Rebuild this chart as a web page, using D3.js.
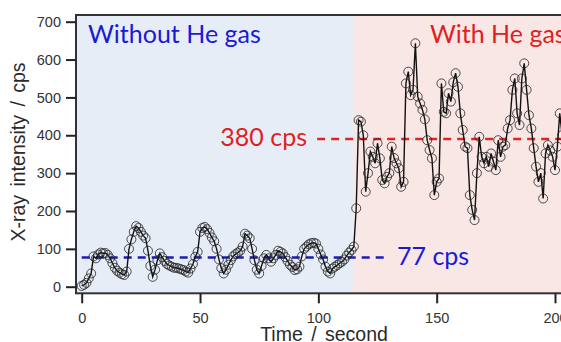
<!DOCTYPE html>
<html>
<head>
<meta charset="utf-8">
<script src="https://cdn.jsdelivr.net/npm/d3@7"></script>
<style>
  body { margin: 0; background: #fff; }
  svg { display: block; }
</style>
</head>
<body>
<div id="chart"></div>
<script>
// counts per second, t = 0 .. 115 (no gas)
const countsNoGas = [
    2, 5, 10, 22, 35, 80, 75, 85, 90, 88,
    89, 84, 75, 62, 50, 42, 37, 33, 31, 40,
    100, 125, 145, 160, 155, 145, 135, 128, 95, 55,
    26, 45, 70, 88, 78, 68, 60, 56, 53, 50,
    50, 48, 46, 44, 40, 37, 48, 60, 79, 92,
    145, 155, 158, 152, 142, 130, 120, 100, 72, 49,
    35, 45, 58, 70, 80, 86, 90, 95, 106, 140,
    135, 128, 100, 70, 45, 35, 55, 75, 84, 75,
    66, 75, 84, 95, 92, 88, 78, 68, 58, 52,
    44, 46, 53, 80, 100, 106, 112, 115, 116, 114,
    100, 85, 72, 53, 40, 35, 48, 53, 57, 62,
    66, 72, 82, 90, 97, 106
];
// counts per second, t = 116 .. 203 (He gas on)
const countsHeGas = [
    207, 440, 436, 400, 251, 300, 357, 343, 326, 379,
    339, 282, 273, 290, 300, 370, 340, 326, 313, 264,
    277, 537, 568, 506, 520, 643, 502, 484, 467, 442,
    387, 361, 339, 242, 277, 286, 537, 462, 458, 511,
    489, 540, 564, 528, 458, 414, 370, 366, 242, 203,
    176, 300, 396, 343, 326, 343, 317, 352, 330, 308,
    387, 343, 370, 374, 418, 440, 520, 550, 458, 427,
    550, 590, 520, 453, 418, 366, 317, 277, 300, 233,
    352, 374, 360, 343, 308, 370, 458, 400
];
const gasOnAt = 114.6;          // seconds
const xTicks = [0, 50, 100, 150, 200];
const yTicks = [0, 100, 200, 300, 400, 500, 600, 700];
const blueLevel = 77;
const redLevel = 390;           // drawn level of the "380 cps" guide

const points = countsNoGas.concat(countsHeGas).map((v, i) => ({ t: i, v: v }));

const width = 561, height = 342;
const frame = { left: 76, top: 15, bottom: 293.3, right: 600 };

const x = d3.scaleLinear().domain([0, 200]).range([81.7, 555]);
const y = d3.scaleLinear().domain([0, 700]).range([286.7, 21.7]);

const svg = d3.select("#chart")
    .append("svg")
    .attr("width", width)
    .attr("height", height);

// background regions
svg.append("rect")
    .attr("x", frame.left)
    .attr("y", frame.top)
    .attr("width", x(gasOnAt) - frame.left)
    .attr("height", frame.bottom - frame.top)
    .attr("fill", "#e7edf7");
svg.append("rect")
    .attr("x", x(gasOnAt))
    .attr("y", frame.top)
    .attr("width", frame.right - x(gasOnAt))
    .attr("height", frame.bottom - frame.top)
    .attr("fill", "#f8e7e5");

// frame
svg.append("rect")
    .attr("x", frame.left)
    .attr("y", frame.top)
    .attr("width", frame.right - frame.left)
    .attr("height", frame.bottom - frame.top)
    .attr("fill", "none")
    .attr("stroke", "#333")
    .attr("stroke-width", 2);

// axes
const yAxis = svg.append("g")
    .attr("transform", `translate(${frame.left},0)`)
    .call(d3.axisLeft(y).tickValues(yTicks).tickSize(10).tickPadding(5));
const xAxis = svg.append("g")
    .attr("transform", `translate(0,${frame.bottom})`)
    .call(d3.axisBottom(x).tickValues(xTicks).tickSize(10).tickPadding(9));

[xAxis, yAxis].forEach(g => {
    g.select(".domain").remove();
    g.selectAll("line").attr("stroke", "#222").attr("stroke-width", 2);
    g.selectAll("text")
        .attr("fill", "#333")
        .style("font-family", "'Liberation Sans', Arial, sans-serif")
        .style("font-size", "14.5px");
});

// axis titles
svg.append("text")
    .attr("transform", `translate(25,152) rotate(-90)`)
    .attr("text-anchor", "middle")
    .attr("fill", "#2a2a2a")
    .style("font-family", "'Liberation Sans', Arial, sans-serif")
    .style("font-size", "19.5px")
    .style("word-spacing", "3px")
    .text("X-ray intensity / cps");

svg.append("text")
    .attr("x", 324)
    .attr("y", 341)
    .attr("text-anchor", "middle")
    .attr("fill", "#2a2a2a")
    .style("font-family", "'Liberation Sans', Arial, sans-serif")
    .style("font-size", "19.5px")
    .style("word-spacing", "3px")
    .text("Time / second");

// guide levels
svg.append("line")
    .attr("x1", x(0)).attr("x2", x(128))
    .attr("y1", y(blueLevel)).attr("y2", y(blueLevel))
    .attr("stroke", "#1c1cb8")
    .attr("stroke-width", 2.5)
    .attr("stroke-dasharray", "8,6");
svg.append("line")
    .attr("x1", x(99.5)).attr("x2", width + 10)
    .attr("y1", y(redLevel)).attr("y2", y(redLevel))
    .attr("stroke", "#e02424")
    .attr("stroke-width", 2.5)
    .attr("stroke-dasharray", "8,6");

// data trace
const line = d3.line()
    .x(d => x(d.t))
    .y(d => y(d.v));

svg.append("path")
    .datum(points)
    .attr("d", line)
    .attr("fill", "none")
    .attr("stroke", "#111")
    .attr("stroke-width", 1.4);

svg.append("g")
    .selectAll("circle")
    .data(points)
    .enter()
    .append("circle")
    .attr("cx", d => x(d.t))
    .attr("cy", d => y(d.v))
    .attr("r", 4.5)
    .attr("fill", "none")
    .attr("stroke", "#222")
    .attr("stroke-width", 0.8);

// annotations
const note = (txt, xPos, yPos, color, anchor) =>
    svg.append("text")
        .attr("x", xPos)
        .attr("y", yPos)
        .attr("text-anchor", anchor || "start")
        .attr("fill", color)
        .style("font-family", "Lato, 'Open Sans', sans-serif")
        .style("font-size", "25px")
        .text(txt);

note("Without He gas", 88, 43, "#1a1ad6");
note("With He gas", 430, 43, "#e01f1f");
note("380 cps", 307, 146, "#e01f1f", "end");
note("77 cps", 397, 265, "#1a1ad6");
</script>
</body>
</html>
